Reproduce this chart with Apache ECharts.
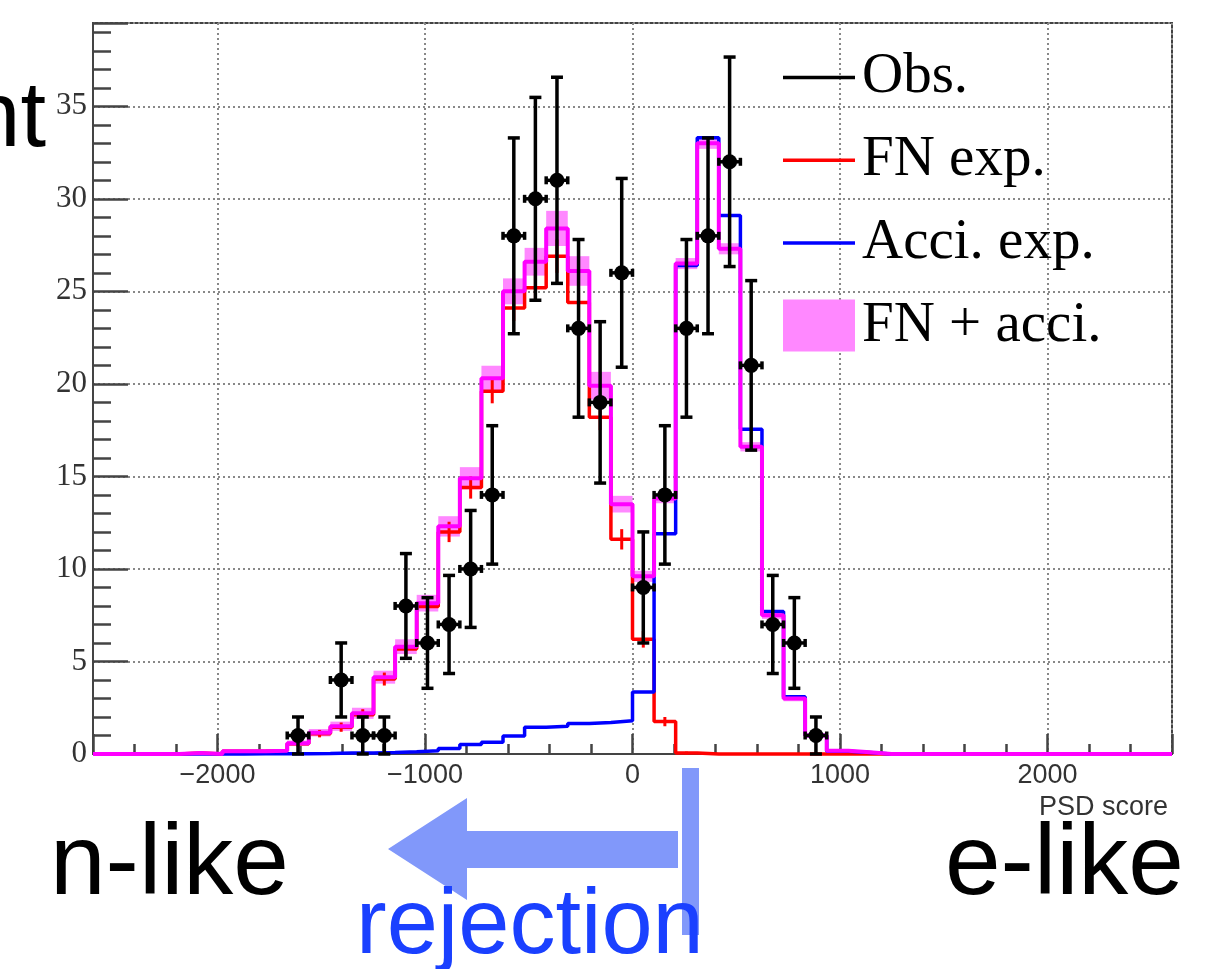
<!DOCTYPE html>
<html>
<head>
<meta charset="utf-8">
<title>PSD score</title>
<script src="https://cdn.jsdelivr.net/npm/echarts@6/dist/echarts.min.js"></script>
<style>
  html, body { margin: 0; padding: 0; background: #fff; }
  #chart { width: 1221px; height: 969px; }
</style>
</head>
<body>
<div id="chart"></div>
<script>
// binning shared by all histograms: 50 bins from -2600 to 2600
const binMin = -2600;
const binWidth = 104;
const nBins = 50;

// observed events per bin (0 -> no point drawn) and their errors
const obsCounts = [0, 0, 0, 0, 0, 0, 0, 0, 0, 1, 0, 4, 1, 1, 8, 6, 7, 10, 14, 28,
  30, 31, 23, 19, 26, 9, 14, 23, 28, 32, 21, 7, 6, 1, 0, 0, 0, 0, 0, 0,
  0, 0, 0, 0, 0, 0, 0, 0, 0, 0];
const obsErrors = [0, 0, 0, 0, 0, 0, 0, 0, 0, 1, 0, 2, 1, 1, 2.83, 2.45, 2.65, 3.16, 3.74, 5.29,
  5.48, 5.57, 4.8, 4.36, 5.1, 3, 3.74, 4.8, 5.29, 5.66, 4.58, 2.65, 2.45, 1, 0, 0, 0, 0, 0, 0,
  0, 0, 0, 0, 0, 0, 0, 0, 0, 0];

// FN expectation
const fnExp = [0, 0, 0, 0, 0.05, 0, 0.15, 0.15, 0.17, 0.55, 1.1, 1.45, 2.12, 4.05, 5.68, 7.97, 12.0, 14.4, 19.6, 24.1,
  25.2, 26.9, 24.4, 18.2, 11.6, 6.2, 1.75, 0.05, 0, 0, 0, 0, 0, 0, 0, 0, 0, 0, 0, 0,
  0, 0, 0, 0, 0, 0, 0, 0, 0, 0];
const fnErr = [0, 0, 0, 0, 0.03, 0, 0.06, 0.06, 0.07, 0.15, 0.2, 0.25, 0.3, 0.35, 0.4, 0.45, 0.55, 0.6, 0.65, 0.7,
  0.75, 0.9, 0.8, 0.7, 0.55, 0.45, 0.25, 0.08, 0, 0, 0, 0, 0, 0, 0, 0, 0, 0, 0, 0,
  0, 0, 0, 0, 0, 0, 0, 0, 0, 0];

// accidental expectation
const acciExp = [0, 0, 0, 0, 0.02, 0, 0, 0.01, 0.01, 0.02, 0.03, 0.05, 0.06, 0.08, 0.12, 0.18, 0.3, 0.52, 0.63, 0.97,
  1.45, 1.5, 1.65, 1.7, 1.8, 3.35, 11.9, 26.4, 33.3, 29.1, 17.55, 7.7, 3.1, 1.0, 0.15, 0.08, 0, 0, 0, 0,
  0, 0, 0, 0, 0, 0, 0, 0, 0, 0];

// FN + acci. and its uncertainty band
const totalExp = [0, 0, 0, 0, 0.05, 0, 0.15, 0.15, 0.18, 0.58, 1.15, 1.5, 2.2, 4.15, 5.8, 8.15, 12.3, 14.9, 20.3, 25.0,
  26.6, 28.4, 26.1, 19.9, 13.5, 9.6, 13.8, 26.5, 33.0, 27.3, 16.6, 7.5, 3.0, 1.0, 0.18, 0.09, 0, 0, 0, 0,
  0, 0, 0, 0, 0, 0, 0, 0, 0, 0];
const totalErr = [0, 0, 0, 0, 0.03, 0, 0.08, 0.08, 0.08, 0.15, 0.2, 0.25, 0.3, 0.35, 0.4, 0.45, 0.55, 0.6, 0.68, 0.7,
  0.75, 0.95, 0.8, 0.75, 0.45, 0.3, 0.25, 0.3, 0.3, 0.3, 0.25, 0.2, 0.15, 0.1, 0.05, 0.03, 0, 0, 0, 0,
  0, 0, 0, 0, 0, 0, 0, 0, 0, 0];

const edges = [];
for (let k = 0; k <= nBins; k++) edges.push(binMin + k * binWidth);

// step outline: value of bin k from edge k to edge k+1
function stepData(vals) {
  const d = vals.map((v, k) => [edges[k], v]);
  d.push([edges[nBins], vals[nBins - 1]]);
  return d;
}

const obsData = [];
obsCounts.forEach((n, k) => {
  if (n > 0) obsData.push([edges[k] + binWidth / 2, n, obsErrors[k]]);
});
const bandData = [];
totalExp.forEach((v, k) => {
  if (totalErr[k] > 0) bandData.push([edges[k], edges[k + 1], v, totalErr[k]]);
});
const fnErrData = [];
fnExp.forEach((v, k) => {
  if (fnErr[k] > 0) fnErrData.push([edges[k] + binWidth / 2, v, fnErr[k]]);
});

function renderObs(params, api) {
  const x = api.value(0), n = api.value(1), e = api.value(2);
  const c = api.coord([x, n]);
  const top = api.coord([x, n + e]);
  const bot = api.coord([x, n - e]);
  const l = api.coord([x - binWidth / 2, n]);
  const r = api.coord([x + binWidth / 2, n]);
  const st = { stroke: '#000', lineWidth: 3.5 };
  return {
    type: 'group',
    children: [
      { type: 'line', shape: { x1: c[0], y1: top[1], x2: c[0], y2: bot[1] }, style: st },
      { type: 'line', shape: { x1: c[0] - 6, y1: top[1], x2: c[0] + 6, y2: top[1] }, style: st },
      { type: 'line', shape: { x1: c[0] - 6, y1: bot[1], x2: c[0] + 6, y2: bot[1] }, style: st },
      { type: 'line', shape: { x1: l[0], y1: c[1], x2: r[0], y2: c[1] }, style: st },
      { type: 'line', shape: { x1: l[0], y1: c[1] - 4, x2: l[0], y2: c[1] + 4 }, style: st },
      { type: 'line', shape: { x1: r[0], y1: c[1] - 4, x2: r[0], y2: c[1] + 4 }, style: st },
      { type: 'circle', shape: { cx: c[0], cy: c[1], r: 7.5 }, style: { fill: '#000' } }
    ]
  };
}

function renderBand(params, api) {
  const p0 = api.coord([api.value(0), api.value(2) + api.value(3)]);
  const p1 = api.coord([api.value(1), api.value(2) - api.value(3)]);
  return {
    type: 'rect',
    shape: { x: p0[0], y: p0[1], width: p1[0] - p0[0], height: p1[1] - p0[1] },
    style: { fill: '#ff88ff' }
  };
}

function renderFnErr(params, api) {
  const top = api.coord([api.value(0), api.value(1) + api.value(2)]);
  const bot = api.coord([api.value(0), api.value(1) - api.value(2)]);
  return {
    type: 'line',
    shape: { x1: top[0], y1: top[1], x2: bot[0], y2: bot[1] },
    style: { stroke: '#ff0000', lineWidth: 3 }
  };
}

const chart = echarts.init(document.getElementById('chart'));
const axisColor = '#444';
const gridStyle = { color: '#888', width: 2, type: [2, 3] };
const lineIcon = 'path://M0,0H72V3.5H0Z';

chart.setOption({
  animation: false,
  grid: { left: 93, right: 49, top: 23, bottom: 215, show: true, borderColor: axisColor, borderWidth: 2 },
  legend: {
    left: 778,
    top: 44,
    orient: 'vertical',
    itemWidth: 72,
    itemHeight: 52,
    itemGap: 25.7,
    selectedMode: false,
    textStyle: { fontFamily: 'Liberation Serif', fontSize: 57, color: '#000', lineHeight: 52, padding: [0, 0, 0, 2] },
    data: [
      { name: 'Obs.', icon: lineIcon, itemStyle: { color: '#000', borderWidth: 0 } },
      { name: 'FN exp.', icon: lineIcon, itemStyle: { color: '#ff0000', borderWidth: 0 } },
      { name: 'Acci. exp.', icon: lineIcon, itemStyle: { color: '#0000ff', borderWidth: 0 } },
      { name: 'FN + acci.', icon: 'rect', itemStyle: { color: '#ff88ff', borderWidth: 0 } }
    ]
  },
  xAxis: {
    type: 'value',
    min: -2600,
    max: 2600,
    splitNumber: 5,
    name: 'PSD score',
    nameLocation: 'end',
    nameGap: -4,
    nameTextStyle: {
      fontFamily: 'Liberation Sans', fontSize: 27, color: '#333',
      align: 'right', verticalAlign: 'top', padding: [40, 0, 0, 0]
    },
    axisLine: { show: true, onZero: false, lineStyle: { color: axisColor, width: 2 } },
    axisTick: { show: true, inside: true, length: 20, lineStyle: { color: axisColor, width: 2.5 } },
    minorTick: { show: true, splitNumber: 5, length: 10, lineStyle: { color: axisColor, width: 2.5 } },
    axisLabel: {
      showMinLabel: false, showMaxLabel: false, margin: 8,
      fontFamily: 'Liberation Sans', fontSize: 27, color: '#333',
      formatter: v => String(v).replace('-', '\u2212')
    },
    splitLine: { show: true, lineStyle: gridStyle }
  },
  yAxis: {
    type: 'value',
    min: 0,
    max: 39.5,
    splitNumber: 8,
    axisLine: { show: true, onZero: false, lineStyle: { color: axisColor, width: 2 } },
    axisTick: { show: true, inside: true, length: 35, lineStyle: { color: axisColor, width: 2.5 } },
    minorTick: { show: true, splitNumber: 5, length: 18, lineStyle: { color: axisColor, width: 2.5 } },
    axisLabel: { showMaxLabel: false, margin: 6, fontFamily: 'Liberation Serif', fontSize: 31, color: '#333' },
    splitLine: { show: true, lineStyle: gridStyle }
  },
  series: [
    {
      name: 'FN + acci.',
      type: 'custom',
      renderItem: renderBand,
      itemStyle: { color: '#ff88ff' },
      encode: { x: [0, 1], y: 2 },
      data: bandData,
      z: 1
    },
    {
      name: 'FN exp.',
      type: 'line',
      step: 'end',
      symbol: 'none',
      clip: false,
      lineStyle: { color: '#ff0000', width: 3.5 },
      itemStyle: { color: '#ff0000' },
      data: stepData(fnExp),
      z: 2
    },
    {
      name: 'fnErr',
      type: 'custom',
      renderItem: renderFnErr,
      encode: { x: 0, y: 1 },
      data: fnErrData,
      z: 2
    },
    {
      name: 'Acci. exp.',
      type: 'line',
      step: 'end',
      symbol: 'none',
      clip: false,
      lineStyle: { color: '#0000ff', width: 3.5 },
      itemStyle: { color: '#0000ff' },
      data: stepData(acciExp),
      z: 3
    },
    {
      name: 'total',
      type: 'line',
      step: 'end',
      symbol: 'none',
      clip: false,
      lineStyle: { color: '#ff00ff', width: 4 },
      itemStyle: { color: '#ff00ff' },
      data: stepData(totalExp),
      z: 4
    },
    {
      name: 'Obs.',
      type: 'custom',
      renderItem: renderObs,
      itemStyle: { color: '#000' },
      encode: { x: 0, y: 1 },
      data: obsData,
      z: 5
    }
  ],
  graphic: [
    { type: 'text', style: { text: 'nt', x: 46, y: 121, font: '92px "Liberation Sans"', fill: '#000', textAlign: 'right', textVerticalAlign: 'middle' } },
    { type: 'text', style: { text: 'n-like', x: 50, y: 866, font: '100px "Liberation Sans"', fill: '#000', textAlign: 'left', textVerticalAlign: 'middle' } },
    { type: 'text', style: { text: 'e-like', x: 945, y: 866, font: '100px "Liberation Sans"', fill: '#000', textAlign: 'left', textVerticalAlign: 'middle' } },
    { type: 'rect', shape: { x: 682, y: 768, width: 17, height: 167 }, style: { fill: '#8198fa' } },
    {
      type: 'polygon',
      shape: { points: [[388, 849], [467, 798], [467, 831], [678, 831], [678, 868], [467, 868], [467, 900]] },
      style: { fill: '#8198fa' }
    },
    { type: 'text', style: { text: 'rejection', x: 356, y: 928, font: '92px "Liberation Sans"', fill: '#1a40ff', textAlign: 'left', textVerticalAlign: 'middle' } }
  ]
});
</script>
</body>
</html>
